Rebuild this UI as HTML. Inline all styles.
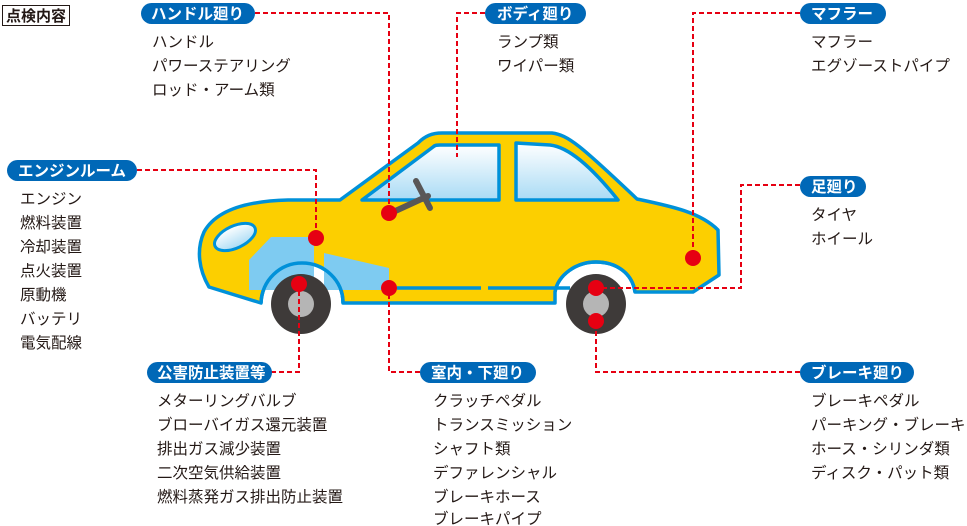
<!DOCTYPE html>
<html><head><meta charset="utf-8"><style>
html,body{margin:0;padding:0;background:#fff;}
svg{display:block;}
text{font-family:"Liberation Sans","Noto Sans CJK JP",sans-serif;}
.l{font-size:15.5px;fill:#231815;}
.p{font-size:15.5px;fill:#fff;font-weight:bold;}
.d{stroke:#e60012;stroke-width:2;stroke-dasharray:5 3;fill:none;}
.pl{fill:#0068b7;}
</style></head><body>
<svg width="967" height="526" viewBox="0 0 967 526" xmlns="http://www.w3.org/2000/svg">
<defs>
<linearGradient id="g" x1="0" y1="0" x2="0" y2="1"><stop offset="0" stop-color="#ffffff"/><stop offset="1" stop-color="#a9dbf5"/></linearGradient>
</defs>
<path d="M209,287 C199,270 196,250 204,232 C216,210 247,201 288,200 L340,200 L418,143 C425,136 432,133 442,133 L552,133 C568,135 580,145 637,199 C670,206 700,212 718,230 L719,275 L693,292 L635,292 C632,272 615,262 596,262 C576,262 558,275 555,292 L555,303 L343,303 C343,280 324,263 302,263 C280,263 262,280 261,303 Z" fill="#fccf00" stroke="#0091d9" stroke-width="3.5" stroke-linejoin="round"/>
<polygon points="249,260 271,237 314,237 314,290 249,290" fill="#7ecbf1"/>
<polygon points="324,253 389,268 389,290 324,290" fill="#7ecbf1"/>
<path d="M261,303 C262,280 280,263 302,263 C324,263 343,280 343,303" fill="none" stroke="#0091d9" stroke-width="3.5"/>
<path d="M555,292 C558,275 576,262 596,262 C615,262 632,272 635,292" fill="none" stroke="#0091d9" stroke-width="3.5"/>
<path d="M362,200 L433,147 C435,145 437,145 440,145 L499,145 L499,200 Z" fill="url(#g)" stroke="#0091d9" stroke-width="3.5" stroke-linejoin="round"/>
<path d="M516,143 L550,145 C568,147 590,165 618,200 L516,200 Z" fill="url(#g)" stroke="#0091d9" stroke-width="3.5" stroke-linejoin="round"/>
<ellipse cx="235" cy="237" rx="22" ry="11" transform="rotate(-25 235 237)" fill="url(#g)" stroke="#0091d9" stroke-width="3"/>
<line x1="397" y1="288" x2="481" y2="288" stroke="#0091d9" stroke-width="3.5"/>
<line x1="488" y1="288" x2="570" y2="288" stroke="#0091d9" stroke-width="3.5"/>
<line x1="391" y1="213" x2="428" y2="196" stroke="#595757" stroke-width="6" stroke-linecap="round"/>
<line x1="416" y1="181" x2="430" y2="208" stroke="#595757" stroke-width="6" stroke-linecap="round"/>
<circle cx="301" cy="304" r="30" fill="#3e3a39"/><circle cx="301" cy="304" r="13" fill="#b5b5b5"/>
<circle cx="596" cy="304" r="30" fill="#3e3a39"/><circle cx="596" cy="304" r="13" fill="#b5b5b5"/>
<polyline class="d" points="255,13 389,13 389,213"/>
<polyline class="d" points="485,13 457,13 457,157"/>
<polyline class="d" points="800,13 693,13 693,258"/>
<polyline class="d" points="137,170 316,170 316,238"/>
<polyline class="d" points="800,185 741,185 741,288 596,288"/>
<polyline class="d" points="271,372 299,372 299,284"/>
<polyline class="d" points="420,372 389,372 389,288"/>
<polyline class="d" points="800,372 596,372 596,321"/>
<g fill="#e60012">
<circle cx="316" cy="238" r="8"/><circle cx="389" cy="213" r="8"/><circle cx="389" cy="288" r="8"/>
<circle cx="299" cy="284" r="8"/><circle cx="693" cy="258" r="8"/><circle cx="596" cy="288" r="8"/><circle cx="596" cy="321" r="8"/>
</g>
<rect x="2.5" y="5.5" width="67" height="20" fill="#fff" stroke="#231815" stroke-width="1"/>
<text x="6" y="21" style="font-size:15px;fill:#231815;font-weight:bold">点検内容</text>
<rect class="pl" x="141" y="3" width="114" height="21" rx="10.5"/><text class="p" x="151" y="19">ハンドル廻り</text>
<rect class="pl" x="485" y="3" width="101" height="21" rx="10.5"/><text class="p" x="497" y="19">ボディ廻り</text>
<rect class="pl" x="800" y="3" width="86" height="21" rx="10.5"/><text class="p" x="811" y="19">マフラー</text>
<rect class="pl" x="7" y="160" width="130" height="21" rx="10.5"/><text class="p" x="18" y="176">エンジンルーム</text>
<rect class="pl" x="800" y="176" width="66" height="21" rx="10.5"/><text class="p" x="811" y="192">足廻り</text>
<rect class="pl" x="147" y="362" width="125" height="21" rx="10.5"/><text class="p" x="157" y="378">公害防止装置等</text>
<rect class="pl" x="420" y="362" width="116" height="21" rx="10.5"/><text class="p" x="431" y="378">室内・下廻り</text>
<rect class="pl" x="800" y="362" width="114" height="21" rx="10.5"/><text class="p" x="811" y="378">ブレーキ廻り</text>
<g class="l">
<text x="152" y="47">ハンドル</text><text x="152" y="71">パワーステアリング</text><text x="152" y="95">ロッド・アーム類</text>
<text x="497" y="47">ランプ類</text><text x="497" y="71">ワイパー類</text>
<text x="811" y="47">マフラー</text><text x="811" y="71">エグゾーストパイプ</text>
<text x="20" y="204">エンジン</text><text x="20" y="228">燃料装置</text><text x="20" y="252">冷却装置</text><text x="20" y="276">点火装置</text><text x="20" y="300">原動機</text><text x="20" y="324">バッテリ</text><text x="20" y="348">電気配線</text>
<text x="811" y="220">タイヤ</text><text x="811" y="244">ホイール</text>
<text x="157" y="406">メターリングバルブ</text><text x="157" y="430">ブローバイガス還元装置</text><text x="157" y="454">排出ガス減少装置</text><text x="157" y="478">二次空気供給装置</text><text x="157" y="502">燃料蒸発ガス排出防止装置</text>
<text x="433" y="406">クラッチペダル</text><text x="433" y="430">トランスミッション</text><text x="433" y="454">シャフト類</text><text x="433" y="478">デファレンシャル</text><text x="433" y="502">ブレーキホース</text><text x="433" y="524">ブレーキパイプ</text>
<text x="811" y="406">ブレーキペダル</text><text x="811" y="430">パーキング・ブレーキ</text><text x="811" y="454">ホース・シリンダ類</text><text x="811" y="478">ディスク・パット類</text>
</g>
</svg>
</body></html>
